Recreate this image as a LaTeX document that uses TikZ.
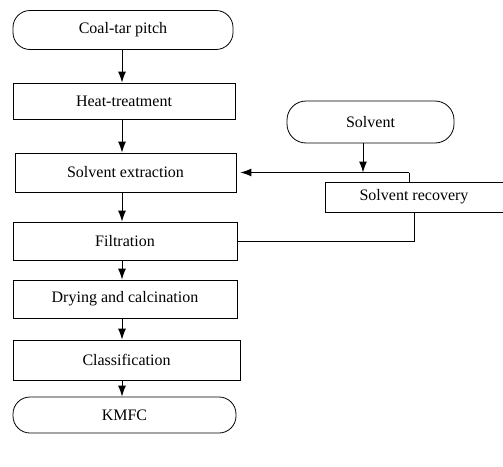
\documentclass[tikz,border=0pt]{standalone}
\usepackage{fontspec}
\setmainfont{Liberation Serif}
\usetikzlibrary{arrows.meta}
\begin{document}
\begin{tikzpicture}[x=1pt,y=-1pt,
  every node/.style={font=\fontsize{16}{18}\selectfont},
  box/.style={draw, line width=0.8pt, minimum height=#1, inner sep=0pt},
  term/.style={draw, line width=0.8pt, rounded corners=17pt, minimum height=#1, inner sep=0pt},
  arr/.style={line width=1pt, -{Latex[length=11pt,width=8pt]}},
  ln/.style={line width=0.8pt}]
\useasboundingbox (0,0) rectangle (503,466);
\node[term=39pt, minimum width=220pt] (cp) at (123,30) {Coal-tar pitch};
\node[box=36pt, minimum width=222pt] (ht) at (124,101) {Heat-treatment};
\node[box=39pt, minimum width=221pt] (se) at (125.5,172.5) {Solvent extraction};
\node[box=38pt, minimum width=224pt] (fi) at (125,241) {Filtration};
\node[box=38pt, minimum width=224pt] (dc) at (125,299) {Drying and calcination};
\node[box=40pt, minimum width=227pt] (cl) at (126.5,360) {Classification};
\node[term=36pt, minimum width=223pt] (km) at (124.5,415) {KMFC};
\node[term=42pt, minimum width=167pt, rounded corners=19pt] (sv) at (370.5,122) {Solvent};
\node[box=30pt, minimum width=178pt] (sr) at (414,197) {Solvent recovery};
\coordinate (j) at (409,172.5);
\coordinate (t) at (363,172.5);
\draw[arr] (cp.south -| 122,0) -- (ht.north -| 122,0);
\draw[arr] (ht.south -| 122,0) -- (se.north -| 122,0);
\draw[arr] (se.south -| 122,0) -- (fi.north -| 122,0);
\draw[arr] (fi.south -| 122,0) -- (dc.north -| 122,0);
\draw[arr] (dc.south -| 122,0) -- (cl.north -| 122,0);
\draw[arr] (cl.south -| 122,0) -- (km.north -| 122,0);
\draw[arr] (sv.south -| t) -- (t);
\draw[ln] (sr.north -| j) -- (j);
\draw[arr] (j) -- ([xshift=4pt]se.east);
\draw[ln] (fi.east) -| (sr.south);
\end{tikzpicture}
\end{document}
